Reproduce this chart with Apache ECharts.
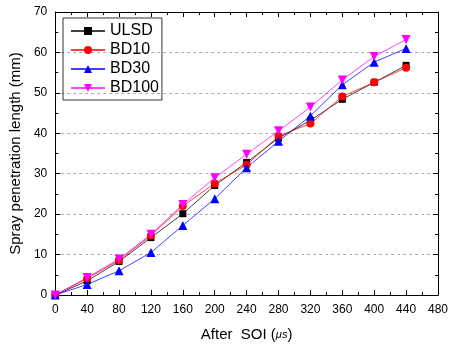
<!DOCTYPE html>
<html><head><meta charset="utf-8">
<script src="https://cdn.jsdelivr.net/npm/echarts@6/dist/echarts.min.js"></script>
<style>html,body{margin:0;padding:0;background:#fff}#c{width:451px;height:347px}</style>
</head><body><div id="c"></div>
<script>
const times = [0, 40, 80, 120, 160, 200, 240, 280, 320, 360, 400, 440];
const ULSD  = [0, 3.5, 8.3, 14.2, 20.1, 27.1, 32.8, 38.8, 43.2, 48.4, 52.6, 56.8];
const BD10  = [0, 4.1, 8.6, 14.7, 22.0, 27.6, 32.2, 39.3, 42.4, 49.1, 52.6, 56.2];
const BD30  = [0, 2.6, 6.0, 10.5, 17.2, 23.8, 31.5, 38.0, 44.3, 52.0, 57.6, 61.0];
const BD100 = [0, 4.3, 8.9, 15.0, 22.4, 29.0, 34.8, 40.6, 46.5, 53.2, 59.0, 63.2];
const xTicks = [0,40,80,120,160,200,240,280,320,360,400,440,480];
const yTicks = [0,10,20,30,40,50,60,70];

const F = '"Liberation Sans", Arial, sans-serif';
function pairs(v){ return times.map((t,i)=>[t,v[i]]); }
const chart = echarts.init(document.getElementById('c'));
const axisCommon = {
  axisLine:{show:true,onZero:false,lineStyle:{color:'#000',width:1}},
  axisTick:{show:true,inside:true,length:5,lineStyle:{color:'#000'}},
  minorTick:{show:true,splitNumber:2,length:3,lineStyle:{color:'#000'}},
};
function mk(name,data,color,symbol,size){
  return {name,type:'line',data:pairs(data),symbol,symbolSize:size,
    lineStyle:{color,width:1,opacity:0.75},itemStyle:{color},
    emphasis:{disabled:true}};
}
chart.setOption({
  animation:false,
  grid:{left:54,right:9,top:12,bottom:49},
  legend:{
    orient:'vertical',left:63,top:18,
    data:['ULSD','BD10','BD30','BD100'],
    borderColor:'#333',borderWidth:1,padding:[5,3,4,7],
    itemWidth:34,itemHeight:10,itemGap:3,
    textStyle:{fontFamily:F,fontSize:16,color:'#000',lineHeight:14,height:14}
  },
  xAxis:[
    Object.assign({type:'value',min:0,max:480,interval:40,
      name:'After  SOI ({i|μs})',nameLocation:'middle',nameGap:32,
      nameTextStyle:{fontFamily:F,fontSize:15,color:'#000',
        rich:{i:{fontFamily:F,fontSize:11,fontStyle:'italic',color:'#000'}}},
      axisLabel:{fontFamily:F,fontSize:12,color:'#000',margin:9,showMaxLabel:true,
        formatter:v=>xTicks.includes(v)?String(v):''},
      splitLine:{show:false}},axisCommon),
    Object.assign({type:'value',min:0,max:480,interval:40,position:'top',
      axisLabel:{show:false},splitLine:{show:false}},axisCommon)
  ],
  yAxis:[
    Object.assign({type:'value',min:0,max:70,interval:10,
      name:'Spray penetration length (mm)',nameLocation:'middle',nameGap:32,
      nameTextStyle:{fontFamily:F,fontSize:15,color:'#000'},
      axisLabel:{fontFamily:F,fontSize:12,color:'#000',margin:8,
        formatter:v=>yTicks.includes(v)?String(v):''},
      splitLine:{show:true,lineStyle:{color:'#aaa',type:[3,3],width:1}}},axisCommon),
    Object.assign({type:'value',min:0,max:70,interval:10,position:'right',
      axisLabel:{show:false},splitLine:{show:false}},axisCommon)
  ],
  series:[
    mk('ULSD',ULSD,'#000000','rect',7),
    mk('BD10',BD10,'#ff0000','circle',8),
    mk('BD30',BD30,'#0000ff','triangle',9),
    Object.assign(mk('BD100',BD100,'#ff00ff','triangle',9),{symbolRotate:180})
  ]
});
</script></body></html>
